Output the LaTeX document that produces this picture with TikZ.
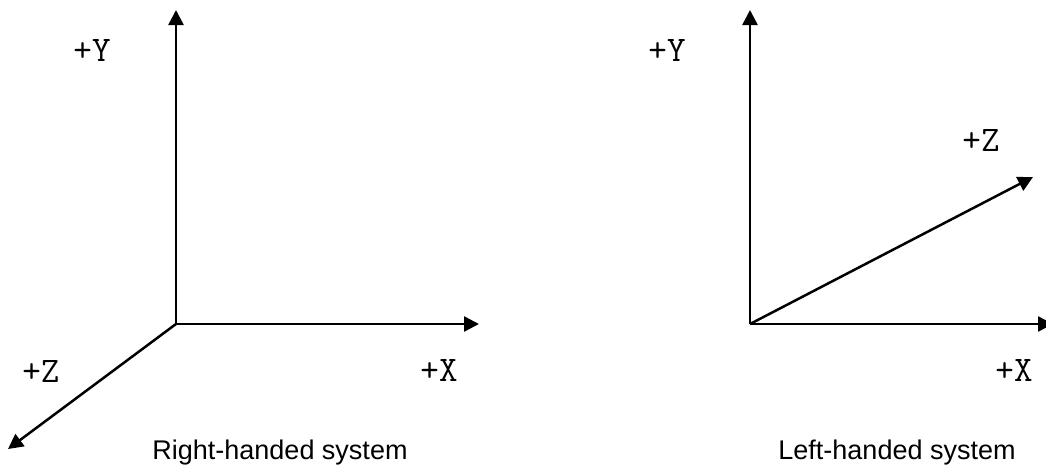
\documentclass[tikz,border=0pt]{standalone}
\usepackage{fontspec}
\usetikzlibrary{arrows.meta}
\newfontfamily\capfont{Liberation Sans}
\begin{document}
\begin{tikzpicture}[x=1pt,y=-1pt,
  axis/.style={line width=2.5pt,-{Triangle[length=15pt,width=15pt]}},
  axlabel/.style={font=\ttfamily\fontsize{36}{36}\selectfont, inner sep=0pt},
  caption/.style={font=\capfont\fontsize{27}{27}\selectfont, inner sep=0pt, anchor=base}]
\useasboundingbox (0,0) rectangle (1046,467);
% right-handed
\coordinate (o1) at (176,324);
\coordinate (y1) at (176,10);
\coordinate (x1) at (479,324);
\coordinate (z1) at (8,449);
\draw[axis] (o1) -- (y1);
\draw[axis] (o1) -- (x1);
\draw[axis] (o1) -- (z1);
\node[axlabel] (ly1) at (92,50) {+Y};
\node[axlabel] (lx1) at (439,370) {+X};
\node[axlabel] (lz1) at (41,371) {+Z};
\node[caption] (c1) at (280,459) {Right-handed system};
% left-handed
\coordinate (o2) at (750,324);
\coordinate (y2) at (750,10);
\coordinate (x2) at (1053,324);
\coordinate (z2) at (1033,177);
\draw[axis] (o2) -- (y2);
\draw[axis] (o2) -- (x2);
\draw[axis] (o2) -- (z2);
\node[axlabel] (ly2) at (667,50) {+Y};
\node[axlabel] (lx2) at (1014,370) {+X};
\node[axlabel] (lz2) at (981,140) {+Z};
\node[caption] (c2) at (897,459) {Left-handed system};
\end{tikzpicture}
\end{document}
